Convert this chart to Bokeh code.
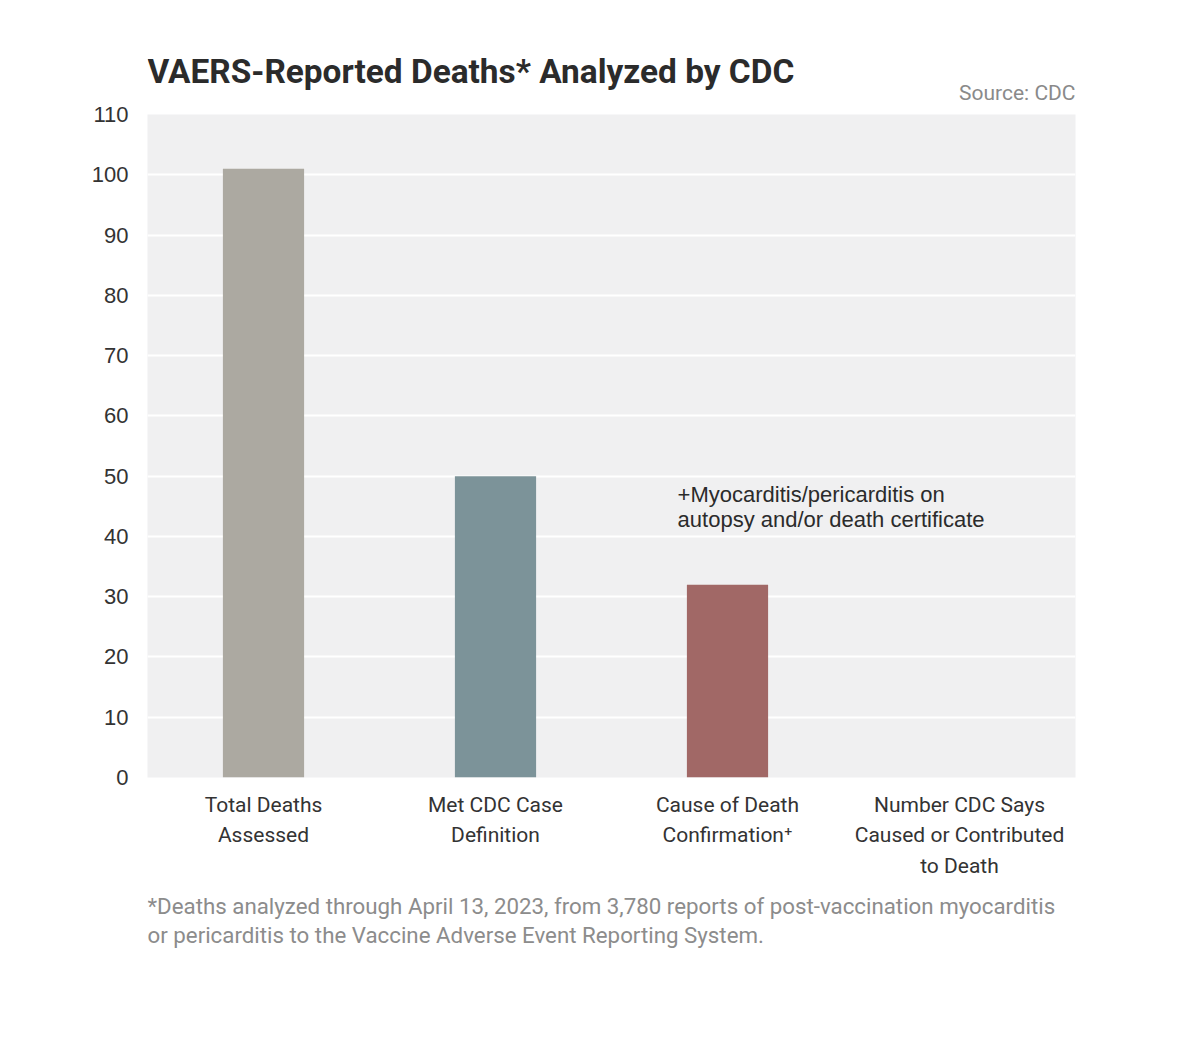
from bokeh.plotting import figure
from bokeh.models import ColumnDataSource, Label, FactorRange, FixedTicker, Range1d
from bokeh.layouts import column
from bokeh.core.properties import value
from bokeh.embed import file_html
from bokeh.resources import INLINE

# ---- data ----
categories = [
    "Total Deaths\nAssessed",
    "Met CDC Case\nDefinition",
    "Cause of Death\nConfirmation\u207a",
    "Number CDC Says\nCaused or Contributed\nto Death",
]
values = [101, 50, 32, 0]
colors = ["#aca9a1", "#7c9399", "#a16866", "#c9c9c9"]
y_ticks = [0, 10, 20, 30, 40, 50, 60, 70, 80, 90, 100, 110]

title_text = "VAERS-Reported Deaths* Analyzed by CDC"
source_text = "Source: CDC"
note_lines = ["+Myocarditis/pericarditis on", "autopsy and/or death certificate"]
foot_lines = [
    "*Deaths analyzed through April 13, 2023, from 3,780 reports of post-vaccination myocarditis",
    "or pericarditis to the Vaccine Adverse Event Reporting System.",
]

W = 1180
LEFT, RIGHT_EDGE = 147, 1075
HEAD_H = 104          # header figure height
TOP_PAD = 10          # space above the frame inside the main figure
FRAME_H = 663         # plot frame height
AXIS_H = 110          # room for category labels
FOOT_H = 80


def blank(height, y0):
    # a text-only strip (local pixel-like coordinates)
    f = figure(width=W, height=height, x_range=Range1d(LEFT, RIGHT_EDGE),
               y_range=Range1d(y0 + height, y0),
               output_backend="svg", toolbar_location=None, title=None,
               x_axis_type=None, y_axis_type=None,
               min_border_left=LEFT, min_border_right=W - RIGHT_EDGE,
               min_border_top=0, min_border_bottom=0)
    f.grid.visible = False
    f.outline_line_color = None
    f.background_fill_color = "white"
    f.border_fill_color = "white"
    return f


# ---- header ----
head = blank(HEAD_H, 0)
head.text(x=[LEFT], y=[71], text=[title_text], text_font=value("Roboto"),
          text_font_style="bold", text_font_size="33.4px", text_color="#2b2b2b",
          text_baseline="alphabetic", text_align="left")
head.text(x=[RIGHT_EDGE], y=[92.5], text=[source_text], text_font=value("Roboto"),
          text_font_size="21px", text_color="#8a8a8a",
          text_baseline="alphabetic", text_align="right")

# ---- main chart ----
src = ColumnDataSource(dict(cat=categories, val=values, color=colors))

p = figure(
    width=W, height=TOP_PAD + FRAME_H + AXIS_H,
    x_range=FactorRange(*categories, range_padding=0),
    y_range=(0, 110),
    output_backend="svg", toolbar_location=None, title=None,
    min_border_left=LEFT, min_border_right=W - RIGHT_EDGE,
    min_border_top=TOP_PAD, min_border_bottom=AXIS_H,
)
p.x_range.factor_padding = 0
p.x_range.group_padding = 0

p.vbar(x="cat", top="val", width=0.35, color="color", source=src, line_color=None)

p.background_fill_color = "#f0f0f1"
p.border_fill_color = "white"
p.outline_line_color = None

p.xgrid.grid_line_color = None
p.ygrid.grid_line_color = "white"
p.ygrid.grid_line_width = 2
p.yaxis.ticker = FixedTicker(ticks=y_ticks)

for ax in (p.xaxis[0], p.yaxis[0]):
    ax.axis_line_color = None
    ax.major_tick_line_color = None
    ax.minor_tick_line_color = None
    ax.major_label_text_color = "#333333"

p.yaxis.major_label_text_font = "Liberation Sans"
p.yaxis.major_label_text_font_size = "22px"
p.yaxis.major_label_standoff = 13

p.xaxis.major_label_text_font = "Roboto"
p.xaxis.major_label_text_font_size = "21px"
p.xaxis.major_label_text_line_height = 1.28
p.xaxis.major_label_standoff = 9

for line, yv in zip(note_lines, [47.0, 42.8]):
    p.add_layout(Label(x=2.285, y=yv, text=line, text_font="Liberation Sans",
                       text_font_size="22px", text_color="#2b2b2b",
                       text_baseline="alphabetic", text_align="left"))

# ---- footer ----
foot_y0 = HEAD_H + TOP_PAD + FRAME_H + AXIS_H
foot = blank(FOOT_H, foot_y0)
foot.text(x=[LEFT, LEFT], y=[905, 934], text=foot_lines,
          text_font=value("Roboto"), text_font_size="22.3px", text_color="#8c8c8c",
          text_baseline="alphabetic", text_align="left")

layout = column(head, p, foot, spacing=0)
open("out.html", "w").write(file_html(layout, INLINE))
